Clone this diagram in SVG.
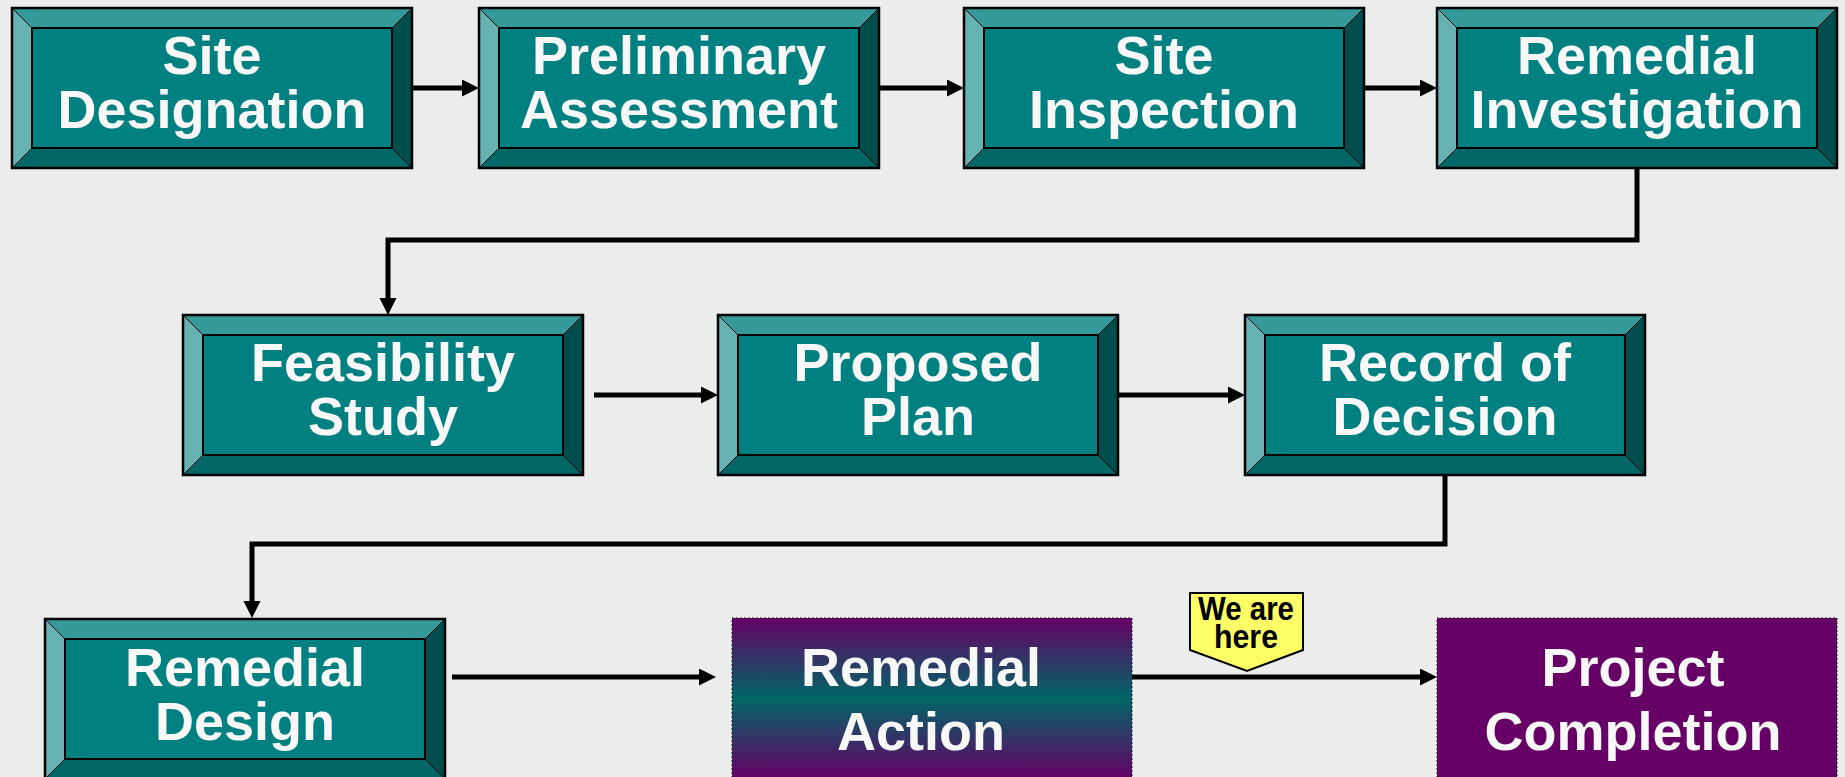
<svg xmlns="http://www.w3.org/2000/svg" xmlns:xlink="http://www.w3.org/1999/xlink" width="1845" height="777" viewBox="0 0 1845 777">
<style>
.lbl{font-family:"Liberation Sans",Arial,sans-serif;font-weight:bold;font-size:54px;fill:#f8f8f8;text-anchor:middle}
.call{font-family:"Liberation Sans Narrow","Liberation Sans",Arial,sans-serif;font-weight:bold;font-size:34px;fill:#000;text-anchor:middle}
.conn{fill:none;stroke:#000;stroke-width:5}
.dl{stroke:#000;stroke-width:1}
</style>
<defs>
<marker id="ah" markerUnits="userSpaceOnUse" markerWidth="18" markerHeight="18" refX="1" refY="8.5" orient="auto">
<path d="M0,0 L17,8.5 L0,17 Z" fill="#000"/>
</marker>
<linearGradient id="rag" x1="0" y1="0" x2="0" y2="1">
<stop offset="0" stop-color="#660066"/>
<stop offset="0.5" stop-color="#006666"/>
<stop offset="1" stop-color="#660066"/>
</linearGradient>
<g id="bevel">
<rect x="0" y="0" width="400" height="160" fill="#008080"/>
<polygon points="0,0 400,0 380,20 20,20" fill="#339999"/>
<polygon points="0,0 20,20 20,140 0,160" fill="#66b2b2"/>
<polygon points="400,0 400,160 380,140 380,20" fill="#004d4d"/>
<polygon points="0,160 20,140 380,140 400,160" fill="#006666"/>
<line class="dl" x1="0" y1="0" x2="20" y2="20"/>
<line class="dl" x1="400" y1="0" x2="380" y2="20"/>
<line class="dl" x1="0" y1="160" x2="20" y2="140"/>
<line class="dl" x1="400" y1="160" x2="380" y2="140"/>
<rect x="20" y="20" width="360" height="120" fill="#008080" stroke="#000" stroke-width="2"/>
<rect x="0" y="0" width="400" height="160" fill="none" stroke="#000" stroke-width="2.5"/>
</g>
</defs>
<rect x="0" y="0" width="1845" height="777" fill="#eaedeb"/>

<g id="connectors">
<path class="conn" d="M413,88 H463" marker-end="url(#ah)"/>
<path class="conn" d="M878,88 H948" marker-end="url(#ah)"/>
<path class="conn" d="M1362,88 H1421" marker-end="url(#ah)"/>
<path class="conn" d="M1637,168 V240 H388 V299" marker-end="url(#ah)"/>
<path class="conn" d="M594,395 H702" marker-end="url(#ah)"/>
<path class="conn" d="M1116,395 H1229" marker-end="url(#ah)"/>
<path class="conn" d="M1445,475 V544 H252 V602" marker-end="url(#ah)"/>
<path class="conn" d="M452,677 H700" marker-end="url(#ah)"/>
<path class="conn" d="M1132,677 H1421" marker-end="url(#ah)"/>
</g>

<g id="site-designation">
<use xlink:href="#bevel" x="12" y="8"/>
<text class="lbl" x="212" y="74">Site</text>
<text class="lbl" x="212" y="128">Designation</text>
</g>
<g id="preliminary-assessment">
<use xlink:href="#bevel" x="479" y="8"/>
<text class="lbl" x="679" y="74">Preliminary</text>
<text class="lbl" x="679" y="128">Assessment</text>
</g>
<g id="site-inspection">
<use xlink:href="#bevel" x="964" y="8"/>
<text class="lbl" x="1164" y="74">Site</text>
<text class="lbl" x="1164" y="128">Inspection</text>
</g>
<g id="remedial-investigation">
<use xlink:href="#bevel" x="1437" y="8"/>
<text class="lbl" x="1637" y="74">Remedial</text>
<text class="lbl" x="1637" y="128">Investigation</text>
</g>

<g id="feasibility-study">
<use xlink:href="#bevel" x="183" y="315"/>
<text class="lbl" x="383" y="381">Feasibility</text>
<text class="lbl" x="383" y="435">Study</text>
</g>
<g id="proposed-plan">
<use xlink:href="#bevel" x="718" y="315"/>
<text class="lbl" x="918" y="381">Proposed</text>
<text class="lbl" x="918" y="435">Plan</text>
</g>
<g id="record-of-decision">
<use xlink:href="#bevel" x="1245" y="315"/>
<text class="lbl" x="1445" y="381">Record of</text>
<text class="lbl" x="1445" y="435">Decision</text>
</g>

<g id="remedial-design">
<use xlink:href="#bevel" x="45" y="619"/>
<text class="lbl" x="245" y="686">Remedial</text>
<text class="lbl" x="245" y="740">Design</text>
</g>
<g id="remedial-action">
<rect x="732" y="618" width="400" height="160" fill="url(#rag)" stroke="#222" stroke-width="1" stroke-dasharray="2,2"/>
<text class="lbl" x="921" y="686">Remedial</text>
<text class="lbl" x="921" y="750">Action</text>
</g>
<g id="project-completion">
<rect x="1437" y="618" width="400" height="160" fill="#660066" stroke="#222" stroke-width="1" stroke-dasharray="2,2"/>
<text class="lbl" x="1633" y="686">Project</text>
<text class="lbl" x="1633" y="750">Completion</text>
</g>

<g id="we-are-here">
<polygon points="1190,593 1303,593 1303,650 1247,671 1190,650" fill="#ffff66" stroke="#000" stroke-width="2"/>
<text class="call" x="1246" y="620" textLength="96" lengthAdjust="spacingAndGlyphs">We are</text>
<text class="call" x="1246" y="648" textLength="64" lengthAdjust="spacingAndGlyphs">here</text>
</g>
</svg>
